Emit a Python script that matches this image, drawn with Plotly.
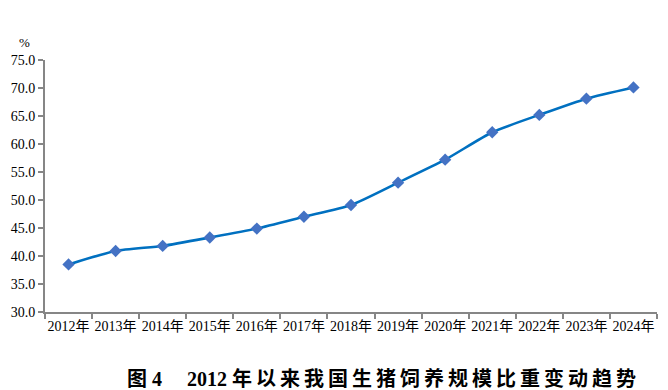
import plotly.graph_objects as go

years = ["2012年", "2013年", "2014年", "2015年", "2016年", "2017年", "2018年",
         "2019年", "2020年", "2021年", "2022年", "2023年", "2024年"]
share = [38.5, 40.9, 41.8, 43.3, 44.9, 47.0, 49.1, 53.1, 57.2, 62.1, 65.2, 68.1, 70.1]
y_ticks = [30, 35, 40, 45, 50, 55, 60, 65, 70, 75]
y_tick_labels = [f"{v:.1f}" for v in y_ticks]
title_text = "图 4\u3000 2012 " + "\u2009".join("年以来我国生猪饲养规模比重变动趋势")

serif = "Times New Roman, Liberation Serif, Noto Sans CJK SC, serif"

fig = go.Figure()
fig.add_trace(go.Scatter(
    x=years, y=share, mode="lines+markers",
    line=dict(color="#0070C0", width=2.6, shape="spline", smoothing=0.6),
    marker=dict(symbol="diamond", size=9.5, color="#4472C4"),
    showlegend=False, hoverinfo="x+y",
))

axis_common = dict(showline=True, linecolor="#868686", linewidth=2, ticks="outside",
                   tickcolor="#868686", tickwidth=2, ticklen=5, showgrid=False,
                   zeroline=False, automargin=False,
                   tickfont=dict(family=serif, size=14, color="#000000"))

fig.update_xaxes(type="category", categoryorder="array", categoryarray=years,
                 range=[-0.5, len(years) - 0.5], tickson="boundaries", tickangle=0,
                 **axis_common)
fig.update_yaxes(range=[30, 75], tickvals=y_ticks, ticktext=y_tick_labels, **axis_common)

fig.add_annotation(text="%", xref="paper", yref="paper", x=-0.033, y=1.03,
                   showarrow=False, xanchor="center", yanchor="bottom",
                   font=dict(family=serif, size=13, color="#000000"))
fig.add_annotation(text="<b>" + title_text + "</b>", xref="paper", yref="paper",
                   x=0.55, y=-0.21, xanchor="center", yanchor="top", showarrow=False,
                   font=dict(family=serif, size=20, color="#000000"))

fig.update_layout(width=668, height=390, margin=dict(l=45, r=11, t=60, b=78),
                  plot_bgcolor="white", paper_bgcolor="white")

fig.write_html("out.html")
